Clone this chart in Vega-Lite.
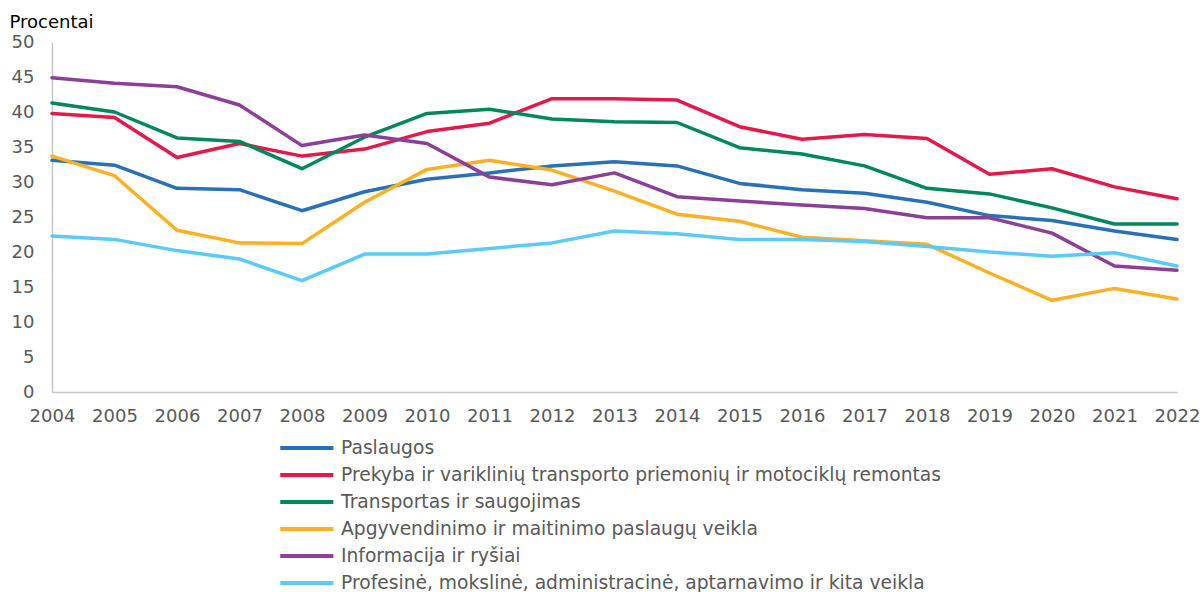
{
  "$schema": "https://vega.github.io/schema/vega-lite/v6.json",
  "autosize": {"type": "none"},
  "padding": {"left": 52, "top": 42, "right": 26, "bottom": 200},
  "width": 1125,
  "height": 350,
  "background": "white",
  "config": {
    "font": "DejaVu Sans",
    "view": {"stroke": null}
  },
  "data": {"values": [
    {"year":"2004","series":"Paslaugos","value":33.1},
    {"year":"2005","series":"Paslaugos","value":32.4},
    {"year":"2006","series":"Paslaugos","value":29.1},
    {"year":"2007","series":"Paslaugos","value":28.9},
    {"year":"2008","series":"Paslaugos","value":25.9},
    {"year":"2009","series":"Paslaugos","value":28.6},
    {"year":"2010","series":"Paslaugos","value":30.4},
    {"year":"2011","series":"Paslaugos","value":31.3},
    {"year":"2012","series":"Paslaugos","value":32.3},
    {"year":"2013","series":"Paslaugos","value":32.9},
    {"year":"2014","series":"Paslaugos","value":32.3},
    {"year":"2015","series":"Paslaugos","value":29.8},
    {"year":"2016","series":"Paslaugos","value":28.9},
    {"year":"2017","series":"Paslaugos","value":28.4},
    {"year":"2018","series":"Paslaugos","value":27.1},
    {"year":"2019","series":"Paslaugos","value":25.2},
    {"year":"2020","series":"Paslaugos","value":24.5},
    {"year":"2021","series":"Paslaugos","value":23.0},
    {"year":"2022","series":"Paslaugos","value":21.8},
    {"year":"2004","series":"Prekyba ir variklinių transporto priemonių ir motociklų remontas","value":39.8},
    {"year":"2005","series":"Prekyba ir variklinių transporto priemonių ir motociklų remontas","value":39.2},
    {"year":"2006","series":"Prekyba ir variklinių transporto priemonių ir motociklų remontas","value":33.5},
    {"year":"2007","series":"Prekyba ir variklinių transporto priemonių ir motociklų remontas","value":35.5},
    {"year":"2008","series":"Prekyba ir variklinių transporto priemonių ir motociklų remontas","value":33.7},
    {"year":"2009","series":"Prekyba ir variklinių transporto priemonių ir motociklų remontas","value":34.7},
    {"year":"2010","series":"Prekyba ir variklinių transporto priemonių ir motociklų remontas","value":37.2},
    {"year":"2011","series":"Prekyba ir variklinių transporto priemonių ir motociklų remontas","value":38.4},
    {"year":"2012","series":"Prekyba ir variklinių transporto priemonių ir motociklų remontas","value":41.9},
    {"year":"2013","series":"Prekyba ir variklinių transporto priemonių ir motociklų remontas","value":41.9},
    {"year":"2014","series":"Prekyba ir variklinių transporto priemonių ir motociklų remontas","value":41.7},
    {"year":"2015","series":"Prekyba ir variklinių transporto priemonių ir motociklų remontas","value":37.9},
    {"year":"2016","series":"Prekyba ir variklinių transporto priemonių ir motociklų remontas","value":36.1},
    {"year":"2017","series":"Prekyba ir variklinių transporto priemonių ir motociklų remontas","value":36.8},
    {"year":"2018","series":"Prekyba ir variklinių transporto priemonių ir motociklų remontas","value":36.2},
    {"year":"2019","series":"Prekyba ir variklinių transporto priemonių ir motociklų remontas","value":31.1},
    {"year":"2020","series":"Prekyba ir variklinių transporto priemonių ir motociklų remontas","value":31.9},
    {"year":"2021","series":"Prekyba ir variklinių transporto priemonių ir motociklų remontas","value":29.3},
    {"year":"2022","series":"Prekyba ir variklinių transporto priemonių ir motociklų remontas","value":27.6},
    {"year":"2004","series":"Transportas ir saugojimas","value":41.3},
    {"year":"2005","series":"Transportas ir saugojimas","value":40.0},
    {"year":"2006","series":"Transportas ir saugojimas","value":36.3},
    {"year":"2007","series":"Transportas ir saugojimas","value":35.8},
    {"year":"2008","series":"Transportas ir saugojimas","value":31.9},
    {"year":"2009","series":"Transportas ir saugojimas","value":36.4},
    {"year":"2010","series":"Transportas ir saugojimas","value":39.8},
    {"year":"2011","series":"Transportas ir saugojimas","value":40.4},
    {"year":"2012","series":"Transportas ir saugojimas","value":39.0},
    {"year":"2013","series":"Transportas ir saugojimas","value":38.6},
    {"year":"2014","series":"Transportas ir saugojimas","value":38.5},
    {"year":"2015","series":"Transportas ir saugojimas","value":34.9},
    {"year":"2016","series":"Transportas ir saugojimas","value":34.0},
    {"year":"2017","series":"Transportas ir saugojimas","value":32.3},
    {"year":"2018","series":"Transportas ir saugojimas","value":29.1},
    {"year":"2019","series":"Transportas ir saugojimas","value":28.3},
    {"year":"2020","series":"Transportas ir saugojimas","value":26.3},
    {"year":"2021","series":"Transportas ir saugojimas","value":24.0},
    {"year":"2022","series":"Transportas ir saugojimas","value":24.0},
    {"year":"2004","series":"Apgyvendinimo ir maitinimo paslaugų veikla","value":33.7},
    {"year":"2005","series":"Apgyvendinimo ir maitinimo paslaugų veikla","value":30.9},
    {"year":"2006","series":"Apgyvendinimo ir maitinimo paslaugų veikla","value":23.1},
    {"year":"2007","series":"Apgyvendinimo ir maitinimo paslaugų veikla","value":21.3},
    {"year":"2008","series":"Apgyvendinimo ir maitinimo paslaugų veikla","value":21.2},
    {"year":"2009","series":"Apgyvendinimo ir maitinimo paslaugų veikla","value":27.1},
    {"year":"2010","series":"Apgyvendinimo ir maitinimo paslaugų veikla","value":31.8},
    {"year":"2011","series":"Apgyvendinimo ir maitinimo paslaugų veikla","value":33.1},
    {"year":"2012","series":"Apgyvendinimo ir maitinimo paslaugų veikla","value":31.7},
    {"year":"2013","series":"Apgyvendinimo ir maitinimo paslaugų veikla","value":28.7},
    {"year":"2014","series":"Apgyvendinimo ir maitinimo paslaugų veikla","value":25.4},
    {"year":"2015","series":"Apgyvendinimo ir maitinimo paslaugų veikla","value":24.4},
    {"year":"2016","series":"Apgyvendinimo ir maitinimo paslaugų veikla","value":22.1},
    {"year":"2017","series":"Apgyvendinimo ir maitinimo paslaugų veikla","value":21.6},
    {"year":"2018","series":"Apgyvendinimo ir maitinimo paslaugų veikla","value":21.1},
    {"year":"2019","series":"Apgyvendinimo ir maitinimo paslaugų veikla","value":17.0},
    {"year":"2020","series":"Apgyvendinimo ir maitinimo paslaugų veikla","value":13.1},
    {"year":"2021","series":"Apgyvendinimo ir maitinimo paslaugų veikla","value":14.8},
    {"year":"2022","series":"Apgyvendinimo ir maitinimo paslaugų veikla","value":13.3},
    {"year":"2004","series":"Informacija ir ryšiai","value":44.9},
    {"year":"2005","series":"Informacija ir ryšiai","value":44.1},
    {"year":"2006","series":"Informacija ir ryšiai","value":43.6},
    {"year":"2007","series":"Informacija ir ryšiai","value":41.0},
    {"year":"2008","series":"Informacija ir ryšiai","value":35.2},
    {"year":"2009","series":"Informacija ir ryšiai","value":36.7},
    {"year":"2010","series":"Informacija ir ryšiai","value":35.5},
    {"year":"2011","series":"Informacija ir ryšiai","value":30.7},
    {"year":"2012","series":"Informacija ir ryšiai","value":29.6},
    {"year":"2013","series":"Informacija ir ryšiai","value":31.3},
    {"year":"2014","series":"Informacija ir ryšiai","value":27.9},
    {"year":"2015","series":"Informacija ir ryšiai","value":27.3},
    {"year":"2016","series":"Informacija ir ryšiai","value":26.7},
    {"year":"2017","series":"Informacija ir ryšiai","value":26.2},
    {"year":"2018","series":"Informacija ir ryšiai","value":24.9},
    {"year":"2019","series":"Informacija ir ryšiai","value":24.9},
    {"year":"2020","series":"Informacija ir ryšiai","value":22.7},
    {"year":"2021","series":"Informacija ir ryšiai","value":18.0},
    {"year":"2022","series":"Informacija ir ryšiai","value":17.4},
    {"year":"2004","series":"Profesinė, mokslinė, administracinė, aptarnavimo ir kita veikla","value":22.3},
    {"year":"2005","series":"Profesinė, mokslinė, administracinė, aptarnavimo ir kita veikla","value":21.8},
    {"year":"2006","series":"Profesinė, mokslinė, administracinė, aptarnavimo ir kita veikla","value":20.2},
    {"year":"2007","series":"Profesinė, mokslinė, administracinė, aptarnavimo ir kita veikla","value":19.0},
    {"year":"2008","series":"Profesinė, mokslinė, administracinė, aptarnavimo ir kita veikla","value":15.9},
    {"year":"2009","series":"Profesinė, mokslinė, administracinė, aptarnavimo ir kita veikla","value":19.7},
    {"year":"2010","series":"Profesinė, mokslinė, administracinė, aptarnavimo ir kita veikla","value":19.7},
    {"year":"2011","series":"Profesinė, mokslinė, administracinė, aptarnavimo ir kita veikla","value":20.5},
    {"year":"2012","series":"Profesinė, mokslinė, administracinė, aptarnavimo ir kita veikla","value":21.3},
    {"year":"2013","series":"Profesinė, mokslinė, administracinė, aptarnavimo ir kita veikla","value":23.0},
    {"year":"2014","series":"Profesinė, mokslinė, administracinė, aptarnavimo ir kita veikla","value":22.6},
    {"year":"2015","series":"Profesinė, mokslinė, administracinė, aptarnavimo ir kita veikla","value":21.8},
    {"year":"2016","series":"Profesinė, mokslinė, administracinė, aptarnavimo ir kita veikla","value":21.8},
    {"year":"2017","series":"Profesinė, mokslinė, administracinė, aptarnavimo ir kita veikla","value":21.5},
    {"year":"2018","series":"Profesinė, mokslinė, administracinė, aptarnavimo ir kita veikla","value":20.8},
    {"year":"2019","series":"Profesinė, mokslinė, administracinė, aptarnavimo ir kita veikla","value":20.0},
    {"year":"2020","series":"Profesinė, mokslinė, administracinė, aptarnavimo ir kita veikla","value":19.4},
    {"year":"2021","series":"Profesinė, mokslinė, administracinė, aptarnavimo ir kita veikla","value":19.9},
    {"year":"2022","series":"Profesinė, mokslinė, administracinė, aptarnavimo ir kita veikla","value":18.0}
  ]},
  "mark": {"type": "line", "strokeWidth": 3.5, "strokeJoin": "round", "strokeCap": "round"},
  "encoding": {
    "x": {
      "field": "year", "type": "ordinal",
      "scale": {"type": "point", "padding": 0},
      "axis": {
        "title": null, "labelAngle": 0, "labelFontSize": 18, "labelColor": "#595959",
        "labelPadding": 15, "ticks": false, "domainColor": "#c8c8c8", "domainWidth": 1.5, "grid": false
      }
    },
    "y": {
      "field": "value", "type": "quantitative",
      "scale": {"domain": [0, 50], "nice": false},
      "axis": {
        "values": [0, 5, 10, 15, 20, 25, 30, 35, 40, 45, 50],
        "title": "Procentai", "titleAngle": 0, "titleAlign": "left", "titleBaseline": "alphabetic",
        "titleX": -43, "titleY": -15, "titleFontSize": 18, "titleFontWeight": "normal", "titleColor": "#000000",
        "labelFontSize": 18, "labelColor": "#595959", "labelPadding": 18,
        "ticks": false, "grid": false, "domainColor": "#c8c8c8", "domainWidth": 1.5
      }
    },
    "color": {
      "field": "series", "type": "nominal",
      "sort": ["Paslaugos", "Prekyba ir variklinių transporto priemonių ir motociklų remontas", "Transportas ir saugojimas", "Apgyvendinimo ir maitinimo paslaugų veikla", "Informacija ir ryšiai", "Profesinė, mokslinė, administracinė, aptarnavimo ir kita veikla"],
      "scale": {
        "domain": ["Paslaugos", "Prekyba ir variklinių transporto priemonių ir motociklų remontas", "Transportas ir saugojimas", "Apgyvendinimo ir maitinimo paslaugų veikla", "Informacija ir ryšiai", "Profesinė, mokslinė, administracinė, aptarnavimo ir kita veikla"],
        "range": ["#2870B8", "#E4194B", "#00875D", "#FDB022", "#8B3F96", "#5ACBF7"]
      },
      "legend": {
        "title": null, "orient": "none", "legendX": 226, "legendY": 389,
        "direction": "vertical",
        "symbolType": "M-1,0H2.6", "symbolSize": 870, "symbolStrokeWidth": 4,
        "labelFontSize": 18.7, "labelColor": "#595959", "labelOffset": 29, "rowPadding": 0,
        "labelLimit": 900
      }
    }
  }
}
